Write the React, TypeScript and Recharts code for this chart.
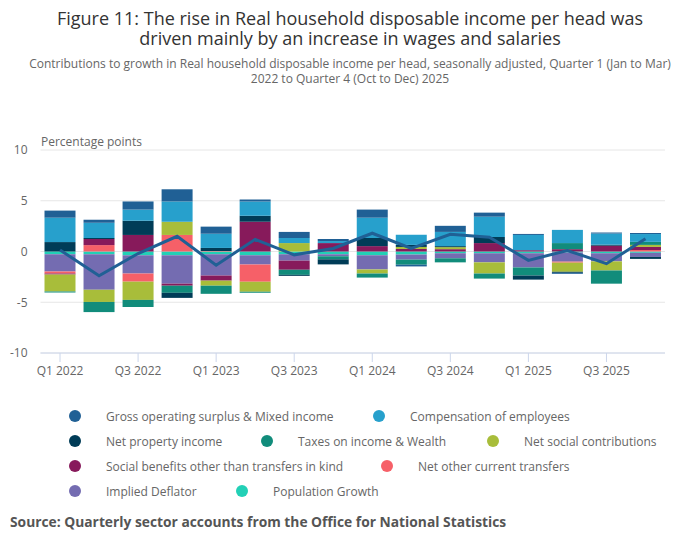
import { ComposedChart, Bar, Line, XAxis, YAxis, CartesianGrid } from 'recharts'

const quarters = [
  'Q1 2022', 'Q2 2022', 'Q3 2022', 'Q4 2022',
  'Q1 2023', 'Q2 2023', 'Q3 2023', 'Q4 2023',
  'Q1 2024', 'Q2 2024', 'Q3 2024', 'Q4 2024',
  'Q1 2025', 'Q2 2025', 'Q3 2025', 'Q4 2025',
]

const grossOperating = [0.7, 0.3, 0.8, 1.2, 0.7, 0.2, 0.6, 0.2, 0.8, -0.17, 0.6, 0.4, 0.1, -0.1, 0.1, 0.1]
const compensation = [2.4, 1.5, 1.1, 2.0, 1.4, 1.4, 0.5, 0.2, 2.0, 1.0, 1.4, 2.0, 1.5, 1.3, 1.1, 0.77]
const netProperty = [0.93, 0.1, 1.4, -0.5, 0.3, 0.6, -0.1, -0.5, 0.8, 0.2, 0.1, 0.6, -0.4, -0.1, 0.1, -0.2]
const taxes = [-0.1, -1.0, -0.7, -0.7, -0.8, -0.1, -0.5, -0.3, -0.4, -0.5, -0.4, -0.5, -0.8, 0.6, -1.3, 0.3]
const socialContributions = [-1.67, -1.2, -1.8, 1.3, -0.5, -1.0, 0.83, 0, -0.4, 0.2, 0.2, -1.1, 0, -0.9, -0.9, 0.2]
const socialBenefits = [-0.1, 0.6, 1.63, -0.2, -0.5, 2.93, -0.9, 0.83, 0.53, 0.25, 0.23, 0.83, 0.13, 0.23, 0.57, 0.3]
const otherTransfers = [-0.2, 0.63, -0.8, 1.63, 0.05, -1.7, 0, 0, 0, 0, 0, 0, 0, -0.1, 0, 0.15]
const deflator = [-1.7, -3.5, -1.8, -2.8, -2.1, -0.9, -0.63, -0.2, -1.4, -0.5, -0.5, -0.9, -1.4, -0.9, -0.8, -0.4]
const population = [-0.27, -0.27, -0.37, -0.37, -0.27, -0.37, -0.27, -0.27, -0.37, -0.3, -0.17, -0.17, -0.17, -0.1, -0.17, -0.13]
const total = [0.15, -2.4, -0.2, 1.5, -1.35, 1.2, -0.33, 0.3, 1.8, 0.3, 1.7, 1.4, -0.87, 0.1, -1.2, 1.25]

const yTicks = [-10, -5, 0, 5, 10]

// legend order; bars are stacked in reverse (last series nearest zero)
const series = [
  { key: 'gos', name: 'Gross operating surplus & Mixed income', color: '#206095', values: grossOperating },
  { key: 'comp', name: 'Compensation of employees', color: '#27a0cc', values: compensation },
  { key: 'prop', name: 'Net property income', color: '#003c57', values: netProperty },
  { key: 'tax', name: 'Taxes on income & Wealth', color: '#118c7b', values: taxes },
  { key: 'nsc', name: 'Net social contributions', color: '#a8bd3a', values: socialContributions },
  { key: 'ben', name: 'Social benefits other than transfers in kind', color: '#871a5b', values: socialBenefits },
  { key: 'oct', name: 'Net other current transfers', color: '#f66068', values: otherTransfers },
  { key: 'def', name: 'Implied Deflator', color: '#746cb1', values: deflator },
  { key: 'pop', name: 'Population Growth', color: '#22d0b6', values: population },
]

const chartData = quarters.map((q, i) => {
  const row: any = { quarter: q, total: total[i] }
  series.forEach(s => { row[s.key] = s.values[i] })
  return row
})

// legend rows: [series index, marker x]
const legendRows = [
  { y: 416, items: [[0, 75], [1, 379]] },
  { y: 441, items: [[2, 75], [3, 267], [4, 493]] },
  { y: 466, items: [[5, 75], [6, 387]] },
  { y: 491, items: [[7, 75], [8, 242]] },
]

const font = '"Open Sans", "Noto Sans", sans-serif'

const centred = (top: number, size: number, color: string, text: string) => (
  <div style={{ position: 'absolute', top, left: 0, width: 700, textAlign: 'center', fontSize: size, lineHeight: `${size}px`, color, whiteSpace: 'nowrap' }}>
    {text}
  </div>
)

export default function App() {
  return (
    <div style={{ position: 'absolute', left: 0, top: 0, width: 700, height: 549, background: '#fff', fontFamily: font, overflow: 'hidden' }}>
      {centred(9, 18, '#333', 'Figure 11: The rise in Real household disposable income per head was')}
      {centred(29, 18, '#333', 'driven mainly by an increase in wages and salaries')}
      {centred(58, 12, '#666', 'Contributions to growth in Real household disposable income per head, seasonally adjusted, Quarter 1 (Jan to Mar)')}
      {centred(73, 12, '#666', '2022 to Quarter 4 (Oct to Dec) 2025')}
      <div style={{ position: 'absolute', top: 134, left: 41, fontSize: 12, lineHeight: '16px', color: '#666' }}>
        Percentage points
      </div>

      <div style={{ position: 'absolute', left: 0, top: 0 }}>
        <ComposedChart
          width={700}
          height={400}
          data={chartData}
          stackOffset="sign"
          margin={{ top: 150, right: 35, left: 0, bottom: 17 }}
        >
          <CartesianGrid vertical={false} stroke="#e6e6e6" />
          <XAxis
            dataKey="quarter"
            interval={1}
            height={30}
            tickSize={9}
            tickMargin={4}
            stroke="#ccd6eb"
            tick={{ fill: '#666', fontSize: 12, fontFamily: font }}
          />
          <YAxis
            domain={[-10, 10]}
            ticks={yTicks}
            width={40.5}
            axisLine={false}
            tickLine={false}
            tickSize={0}
            tickMargin={13}
            tick={{ fill: '#666', fontSize: 12, fontFamily: font }}
          />
          {[...series].reverse().map(s => (
            <Bar
              key={s.key}
              dataKey={s.key}
              name={s.name}
              stackId="a"
              fill={s.color}
              barSize={31}
              isAnimationActive={false}
            />
          ))}
          <Line
            dataKey="total"
            type="linear"
            stroke="#206095"
            strokeWidth={3}
            dot={false}
            isAnimationActive={false}
          />
        </ComposedChart>
      </div>

      {legendRows.map(row =>
        row.items.map(([idx, x]) => {
          const s = series[idx]
          return (
            <div key={s.key}>
              <div style={{ position: 'absolute', left: x - 6, top: row.y - 6, width: 12, height: 12, borderRadius: 6, background: s.color }} />
              <div style={{ position: 'absolute', left: x + 31, top: row.y - 8, fontSize: 12, lineHeight: '18px', color: '#666', whiteSpace: 'nowrap' }}>
                {s.name}
              </div>
            </div>
          )
        })
      )}

      <div style={{ position: 'absolute', left: 10, top: 512, fontSize: 13.8, lineHeight: '20px', fontWeight: 700, color: '#555', whiteSpace: 'nowrap' }}>
        Source: Quarterly sector accounts from the Office for National Statistics
      </div>
    </div>
  )
}
